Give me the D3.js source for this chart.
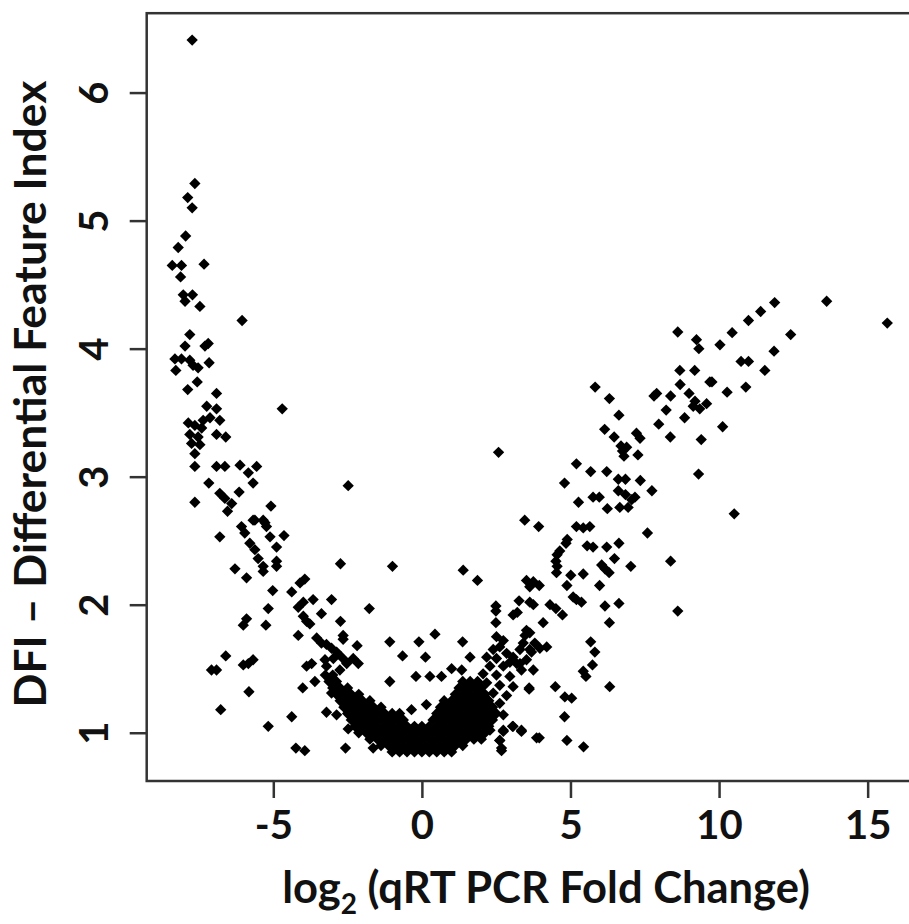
<!DOCTYPE html>
<html>
<head>
<meta charset="utf-8">
<script src="https://cdn.jsdelivr.net/npm/d3@7"></script>
<style>
  body { margin: 0; background: #fff; overflow: hidden; }
  svg text { font-family: Lato, "Open Sans", sans-serif; fill: #111; }
</style>
</head>
<body>
<svg id="chart" width="909" height="924"></svg>
<script>
// tick values
const xTicks = [-5, 0, 5, 10, 15];
const yTicks = [1, 2, 3, 4, 5, 6];

// left arm (strongly down-regulated)
const leftArm = [
  [-7.73,6.41],[-7.64,5.29],[-7.88,5.18],[-7.73,5.10],[-7.95,4.88],[-8.20,4.79],[-7.33,4.66],
  [-8.40,4.65],[-8.09,4.65],[-8.12,4.56],[-8.03,4.42],[-7.72,4.42],[-7.97,4.37],[-7.47,4.33],
  [-6.05,4.22],[-7.81,4.11],[-7.97,4.02],[-7.19,4.04],[-7.30,4.02],[-8.31,3.92],[-8.09,3.92],
  [-7.81,3.91],[-7.70,3.87],[-7.53,3.85],[-8.28,3.83],[-7.16,3.89],[-7.56,3.74],[-7.88,3.68],
  [-4.70,3.53],[-6.91,3.65],[-7.24,3.55],[-6.91,3.53],[-7.86,3.42],[-7.64,3.40],[-7.36,3.44],
  [-7.13,3.46],[-6.80,3.44],[-7.41,3.38],[-7.81,3.33],[-7.53,3.31],[-6.91,3.33],[-6.60,3.31],
  [-7.75,3.26],[-7.47,3.25],[-7.64,3.18],[-7.64,3.08],[-6.91,3.08],[-6.63,3.08],[-6.12,3.09],
  [-5.56,3.08],[-5.84,3.03],[-5.68,2.95],[-7.17,2.95],[-6.80,2.87],[-6.63,2.83],[-6.40,2.79],
  [-6.15,2.88],[-7.64,2.80],[-6.54,2.73],[-5.08,2.77],[-5.62,2.66],[-5.34,2.66],[-5.23,2.61],
  [-6.80,2.53],[-6.07,2.61],[-5.96,2.56],[-5.79,2.48],[-5.62,2.43],[-5.51,2.36],[-5.34,2.30],
  [-5.34,2.26],[-5.68,2.66],[-5.28,2.64],[-5.11,2.53],[-4.89,2.45],[-4.64,2.54],[-4.89,2.34],
  [-4.89,2.30],[-6.29,2.28],[-5.90,2.21],[-5.02,2.11],[-2.48,2.93]
];

// lower left scatter and the band running into the centre
const lowerLeft = [
  [-4.38,2.10],[-4.10,2.17],[-3.94,2.20],[-3.04,2.04],[-1.77,1.97],[-5.17,1.97],[-5.90,1.89],
  [-6.01,1.84],[-5.25,1.84],[-4.16,1.98],[-3.99,2.02],[-3.66,2.04],[-3.38,1.93],[-3.99,1.91],
  [-3.88,1.87],[-3.77,1.85],[-2.74,1.87],[-4.16,1.76],[-2.65,1.76],[-2.65,1.73],[-3.54,1.74],
  [-3.38,1.70],[-3.21,1.69],[-3.04,1.66],[-2.87,1.63],[-2.70,1.59],[-2.53,1.55],[-2.18,1.68],
  [-6.60,1.60],[-7.08,1.49],[-6.91,1.49],[-6.01,1.53],[-5.84,1.54],[-5.68,1.57],[-3.88,1.52],
  [-3.71,1.54],[-3.26,1.57],[-3.21,1.52],[-2.98,1.58],[-2.76,1.49],[-2.53,1.54],[-2.31,1.58],
  [-2.14,1.54],[-3.60,1.40],[-4.01,1.35],[-3.04,1.31],[-5.82,1.32],[-6.77,1.18],[-4.38,1.125],
  [-5.17,1.05],[-4.24,0.88],[-3.94,0.86],[-2.57,0.88],[-1.64,0.88],[-2.48,1.03],[-3.21,1.16],
  [-2.87,1.14],[-2.59,1.24],[-2.37,1.26]
];

// scattered points above the centre
const centre = [
  [-2.74,2.32],[-0.99,2.30],[1.39,2.27],[1.87,2.19],[-1.08,1.71],[-0.10,1.71],[0.44,1.77],
  [1.37,1.71],[-0.65,1.60],[0.12,1.59],[-1.08,1.40],[-0.20,1.44],[0.27,1.44],[0.66,1.44],
  [1.00,1.50],[1.34,1.49],[1.62,1.59],[-0.35,1.18],[0.15,1.22]
];

// dense U-shaped core, read row by row: [DFI, [fold changes]]
const coreRows = [
  [0.85, [-1.0,-0.75,-0.5,-0.25,0,0.25,0.5,0.75,1.0]],
  [0.90, [-1.375,-1.125,-0.875,-0.625,-0.375,-0.125,0.125,0.375,0.625,0.875,1.125,1.375]],
  [0.95, [-1.75,-1.5,-1.25,-1.0,-0.75,-0.5,-0.25,0,0.25,0.5,0.75,1.0,1.25,1.5,1.75,2.0]],
  [1.00, [-2.125,-1.875,-1.625,-1.375,-1.125,-0.875,-0.625,-0.375,-0.125,0.125,0.375,0.625,0.875,1.125,1.375,1.625,1.875,2.125]],
  [1.05, [-2.25,-2.0,-1.75,-1.5,-1.25,-1.0,-0.75,-0.5,-0.25,0,0.25,0.5,0.75,1.0,1.25,1.5,1.75,2.0,2.25]],
  [1.10, [-2.375,-2.125,-1.875,-1.625,-1.375,-1.125,-0.875,-0.625,0.375,0.625,0.875,1.125,1.375,1.625,1.875,2.125,2.375]],
  [1.15, [-2.5,-2.25,-2.0,-1.75,-1.5,-1.25,-1.0,-0.75,0.5,0.75,1.0,1.25,1.5,1.75,2.0,2.25,2.5]],
  [1.20, [-2.625,-2.375,-2.125,-1.875,-1.625,-1.375,0.625,0.875,1.125,1.375,1.625,1.875,2.125,2.375]],
  [1.25, [-2.75,-2.5,-2.25,-2.0,-1.75,0.75,1.0,1.25,1.5,1.75,2.0,2.25]],
  [1.30, [-2.875,-2.625,-2.375,-2.125,1.125,1.375,1.625,1.875,2.125]],
  [1.35, [-3.0,-2.75,-2.5,1.25,1.5,1.75,2.0]],
  [1.40, [-3.125,-2.875,1.375,1.625,1.875]],
  [1.45, [-3.25,-3.0]]
];

// dense patch between fold change 2 and 3.5
const rightCore = [
  [2.51,1.75],[2.74,1.72],[2.62,1.67],[2.40,1.65],[2.85,1.62],[2.18,1.59],[2.51,1.58],[2.96,1.55],
  [2.29,1.52],[2.74,1.52],[2.06,1.46],[2.51,1.45],[2.96,1.44],[2.18,1.39],[2.62,1.37],[3.07,1.36],
  [1.95,1.32],[2.40,1.31],[2.85,1.29],[2.18,1.26],[2.62,1.23],[1.95,1.18],[2.40,1.16],[2.74,1.14],
  [2.06,1.09],[2.29,1.02],[3.41,1.70],[3.63,1.65],[3.52,1.57],[3.30,1.54],[3.35,1.02],[2.74,1.02],
  [3.07,1.05],[2.62,0.94],[2.68,0.86],[3.61,1.34],[3.86,0.96]
];

// right arm (strongly up-regulated)
const rightArm = [
  [13.62,4.37],[15.66,4.20],[11.87,4.36],[11.40,4.29],[10.99,4.22],[10.44,4.125],[12.41,4.11],
  [8.61,4.13],[9.24,4.07],[9.32,4.00],[10.03,4.03],[11.85,3.98],[10.74,3.90],[10.99,3.90],
  [11.54,3.83],[8.68,3.83],[9.18,3.83],[9.76,3.74],[9.69,3.74],[8.69,3.72],[10.27,3.66],
  [10.90,3.70],[5.83,3.70],[7.81,3.63],[7.90,3.65],[8.37,3.63],[8.99,3.65],[6.31,3.61],
  [8.22,3.52],[9.13,3.55],[9.35,3.53],[9.58,3.57],[9.19,3.59],[6.63,3.48],[8.84,3.46],
  [7.97,3.41],[10.12,3.39],[6.15,3.37],[6.47,3.31],[8.36,3.31],[9.40,3.29],[7.22,3.34],
  [7.34,3.30],[6.70,3.24],[6.89,3.23],[6.75,3.20],[6.80,3.16],[7.27,3.17],[2.58,3.19],
  [5.20,3.10],[9.31,3.02],[5.68,3.04],[6.22,3.04],[4.80,2.95],[6.61,2.98],[6.85,2.98],
  [7.35,2.97],[7.74,2.89],[6.61,2.89],[6.85,2.86],[7.17,2.84],[7.06,2.82],[5.76,2.84],
  [5.97,2.84],[5.27,2.80],[6.24,2.75],[6.66,2.76],[6.94,2.76],[10.51,2.71],[7.59,2.56],
  [3.46,2.66],[3.93,2.61],[5.20,2.61],[5.43,2.60],[5.65,2.61],[4.89,2.51],[4.85,2.48],
  [4.64,2.42],[4.55,2.39],[5.56,2.46],[5.76,2.45],[6.22,2.45],[6.63,2.48],[6.48,2.36],
  [7.03,2.30],[8.37,2.34],[4.51,2.34],[4.55,2.30],[4.53,2.25],[5.01,2.23],[5.43,2.24],
  [6.05,2.31],[6.16,2.28],[6.30,2.25],[4.88,2.15],[5.98,2.15],[3.52,2.19],[3.75,2.18],
  [3.95,2.15],[3.63,2.14],[5.09,2.06],[5.20,2.04],[5.37,2.02],[3.27,2.03],[3.63,2.02],
  [3.75,2.00],[2.49,1.99],[2.49,1.95],[3.07,1.92],[3.21,1.94],[4.31,2.00],[4.51,1.97],
  [4.73,1.92],[6.16,1.99],[6.63,2.01],[8.61,1.95],[2.49,1.86],[4.08,1.86],[6.31,1.86],
  [3.52,1.80],[3.63,1.78],[3.47,1.76],[5.68,1.71],[5.82,1.63],[5.74,1.53],[5.43,1.48],
  [5.52,1.44],[6.32,1.36],[4.49,1.36],[4.81,1.28],[5.04,1.27],[4.80,1.125],[3.61,1.35],
  [3.95,0.96],[4.88,0.94],[5.44,0.89],[3.05,1.05],[3.35,1.01],[2.74,1.01],[2.62,0.94],
  [2.68,0.88],[4.20,1.67],[3.97,1.66],[3.80,1.70],[3.69,1.63],[3.30,1.65],[3.07,1.59],
  [3.19,1.54],[3.35,1.49],[3.75,1.49]
];

const width = 909;
const height = 924;

const svg = d3.select("#chart");

// R-style plot region, the right edge runs off the picture
const x = d3.scaleLinear().domain([-9.26, 16.6]).range([146.7, 915.2]);
const y = d3.scaleLinear().domain([0.623, 6.62]).range([781, 13.2]);

// gather all points
const corePoints = coreRows.flatMap(([dfi, xs]) => xs.map(fc => [fc, dfi]));
const points = [...leftArm, ...lowerLeft, ...centre, ...corePoints, ...rightCore, ...rightArm];

// filled diamonds (pch 18)
const diamond = d3.symbol().type(d3.symbolSquare).size(64);

svg.append("g")
  .selectAll("path")
  .data(points)
  .join("path")
  .attr("d", diamond)
  .attr("transform", d => `translate(${x(d[0])},${y(d[1])}) rotate(45)`)
  .attr("fill", "#000");

// box
svg.append("rect")
  .attr("x", x.range()[0])
  .attr("y", y.range()[1])
  .attr("width", x.range()[1] - x.range()[0])
  .attr("height", y.range()[0] - y.range()[1])
  .attr("fill", "none")
  .attr("stroke", "#333")
  .attr("stroke-width", 2.5);

// plain hyphen for negatives, like the original
const fmt = d => String(d);

// x axis
const xAxis = svg.append("g")
  .attr("transform", `translate(0,${y.range()[0]})`)
  .call(d3.axisBottom(x).tickValues(xTicks).tickSize(17).tickPadding(13).tickFormat(fmt));
xAxis.select(".domain").remove();
xAxis.selectAll(".tick line").attr("stroke", "#333").attr("stroke-width", 2.5);
xAxis.selectAll(".tick text")
  .attr("font-size", 40)
  .attr("font-weight", 700)
  .attr("font-family", "Lato, sans-serif")
  .attr("fill", "#111");

// y axis, labels parallel to the axis
const yAxis = svg.append("g")
  .attr("transform", `translate(${x.range()[0]},0)`)
  .call(d3.axisLeft(y).tickValues(yTicks).tickSize(17).tickFormat(fmt));
yAxis.select(".domain").remove();
yAxis.selectAll(".tick line").attr("stroke", "#333").attr("stroke-width", 2.5);
yAxis.selectAll(".tick text")
  .attr("x", null)
  .attr("dy", null)
  .attr("transform", "translate(-54,0) rotate(-90)")
  .attr("text-anchor", "middle")
  .attr("dominant-baseline", "central")
  .attr("font-size", 40)
  .attr("font-weight", 700)
  .attr("font-family", "Lato, sans-serif")
  .attr("fill", "#111");

// axis titles
const xTitle = svg.append("text")
  .attr("x", 546)
  .attr("y", 903)
  .attr("text-anchor", "middle")
  .attr("font-size", 43.5)
  .attr("font-weight", 700);
xTitle.append("tspan").text("log");
xTitle.append("tspan").attr("font-size", 28).attr("dy", 11).text("2");
xTitle.append("tspan").attr("dy", -11).text(" (qRT PCR Fold Change)");

svg.append("text")
  .attr("transform", "translate(46,394) rotate(-90)")
  .attr("text-anchor", "middle")
  .attr("font-size", 44.5)
  .attr("font-weight", 700)
  .text("DFI \u2013 Differential Feature Index");
</script>
</body>
</html>
